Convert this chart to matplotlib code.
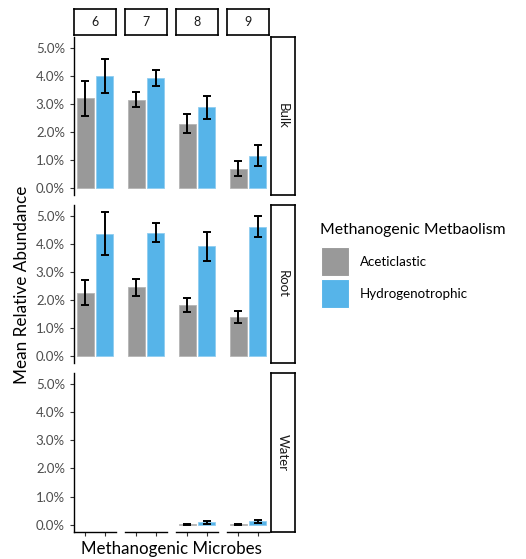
import matplotlib
matplotlib.use("Agg")
import matplotlib.pyplot as plt
from matplotlib.patches import Rectangle
import numpy as np

plt.rcParams['font.family'] = ['Lato', 'DejaVu Sans']

weeks = ["6", "7", "8", "9"]
sites = ["Bulk", "Root", "Water"]
groups = ["Aceticlastic", "Hydrogenotrophic"]
colors = ["#999999", "#56B4E9"]
edge_colors = ["#b5b5b5", "#8fcdf0"]

# mean relative abundance (%) [site][week] -> (aceticlastic, hydrogenotrophic)
means = {
    "Bulk":  [[3.20, 3.99], [3.15, 3.92], [2.27, 2.88], [0.68, 1.15]],
    "Root":  [[2.25, 4.36], [2.45, 4.40], [1.81, 3.91], [1.37, 4.59]],
    "Water": [[0.0, 0.0], [0.0, 0.0], [0.02, 0.09], [0.02, 0.12]],
}
lower = {
    "Bulk":  [[2.57, 3.40], [2.90, 3.63], [1.95, 2.46], [0.41, 0.79]],
    "Root":  [[1.80, 3.59], [2.14, 4.05], [1.56, 3.40], [1.16, 4.24]],
    "Water": [[np.nan, np.nan], [np.nan, np.nan], [0.00, 0.04], [0.00, 0.06]],
}
upper = {
    "Bulk":  [[3.83, 4.59], [3.41, 4.22], [2.62, 3.29], [0.97, 1.52]],
    "Root":  [[2.71, 5.13], [2.76, 4.76], [2.07, 4.43], [1.60, 4.98]],
    "Water": [[np.nan, np.nan], [np.nan, np.nan], [0.04, 0.14], [0.04, 0.18]],
}
yticks = [0, 1, 2, 3, 4, 5]

W, H = 526, 559
fig = plt.figure(figsize=(W / 100, H / 100), dpi=100)

def px_axes(x0, y0, x1, y1):
    return fig.add_axes([x0 / W, 1 - y1 / H, (x1 - x0) / W, (y1 - y0) / H])

col_x = [(74, 116), (125, 167), (176, 218), (227, 269)]
row_y = [(37, 195), (205, 363), (373, 532)]

ymax = max(np.nanmax(upper[s]) for s in sites)
pad = 0.05 * ymax
ylim = (-pad, ymax + pad)

tick_col = "#4D4D4D"
xpos = np.array([1, 2])

for r, s in enumerate(sites):
    for c, w in enumerate(weeks):
        x0, x1 = col_x[c]
        y0, y1 = row_y[r]
        ax = px_axes(x0, y0, x1, y1)
        m = np.array(means[s][c])
        lo = np.array(lower[s][c])
        hi = np.array(upper[s][c])
        lws = [0.6 if v > 0 else 0 for v in m]
        ax.bar(xpos, m, width=0.9, color=colors, edgecolor=edge_colors, linewidth=lws)
        ax.errorbar(xpos, m, yerr=[m - lo, hi - m], fmt="none", ecolor="black",
                    elinewidth=1.4, capsize=3, capthick=1.4)
        ax.set_xlim(0.4, 2.6)
        ax.set_ylim(*ylim)
        for sp in ["top", "right"]:
            ax.spines[sp].set_visible(False)
        ax.set_yticks(yticks)
        ax.set_xticks(xpos)
        ax.tick_params(axis="both", colors="#333333", length=3, width=0.8,
                       labelcolor=tick_col, labelsize=9.5)
        ax.set_xticklabels([])
        if c == 0:
            ax.set_yticklabels([f"{v:.1f}%" for v in yticks])
            ax.spines["left"].set_linewidth(1.0)
        else:
            ax.spines["left"].set_visible(False)
            ax.tick_params(axis="y", left=False, labelleft=False)
        if r == len(sites) - 1:
            ax.spines["bottom"].set_linewidth(1.0)
        else:
            ax.spines["bottom"].set_visible(False)
            ax.tick_params(axis="x", bottom=False)

# top strips
for c, w in enumerate(weeks):
    x0, x1 = col_x[c]
    sa = px_axes(x0, 9, x1, 35)
    sa.set_xticks([]); sa.set_yticks([])
    for sp in sa.spines.values():
        sp.set_linewidth(1.2)
    sa.text(0.5, 0.5, w, ha="center", va="center", fontsize=9, color="#1A1A1A",
            transform=sa.transAxes)

# right strips
for r, s in enumerate(sites):
    y0, y1 = row_y[r]
    sa = px_axes(271, y0, 295, y1)
    sa.set_xticks([]); sa.set_yticks([])
    for sp in sa.spines.values():
        sp.set_linewidth(1.2)
    sa.text(0.5, 0.5, s, ha="center", va="center", fontsize=9.5, color="#1A1A1A",
            rotation=-90, transform=sa.transAxes)

fig.text(22 / W, 1 - 284.5 / H, "Mean Relative Abundance", rotation=90,
         ha="center", va="center", fontsize=12.3)
fig.text(171.5 / W, 1 - 549 / H, "Methanogenic Microbes", ha="center", va="center",
         fontsize=12.2)

# legend (drawn in a pixel-coordinate overlay)
lg = fig.add_axes([0, 0, 1, 1], facecolor="none")
lg.set_xlim(0, W); lg.set_ylim(H, 0); lg.axis("off")
lg.text(320, 230, "Methanogenic Metbaolism", ha="left", va="center", fontsize=11.3)
for i, g in enumerate(groups):
    top = 247 + i * 32
    lg.add_patch(Rectangle((321, top), 28, 29, facecolor=colors[i], edgecolor="white",
                           linewidth=0.8))
    lg.text(360, top + 14.5, g, ha="left", va="center", fontsize=9.6)

fig.savefig("out.png", dpi=100)
